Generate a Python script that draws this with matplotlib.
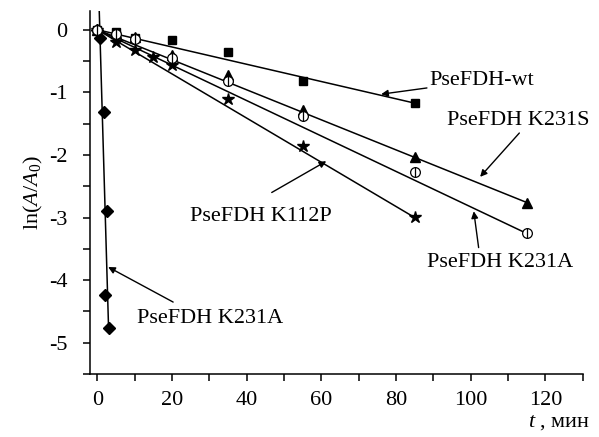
import numpy as np
import matplotlib
matplotlib.use("Agg")
import matplotlib.pyplot as plt
from matplotlib.ticker import MultipleLocator

plt.rcParams['font.family'] = ['Liberation Serif', 'DejaVu Serif']
plt.rcParams['mathtext.fontset'] = 'custom'
plt.rcParams['mathtext.rm'] = 'Liberation Serif'
plt.rcParams['mathtext.it'] = 'Liberation Serif:italic'

# data
t_wt = [0, 5, 10, 20, 35, 55, 85]
y_wt = [0, -0.04, -0.13, -0.17, -0.36, -0.82, -1.17]

t_s = [0, 5, 10, 20, 35, 55, 85, 115]
y_s = [0, -0.05, -0.12, -0.4, -0.72, -1.28, -2.03, -2.76]

t_a = [0, 5, 10, 20, 35, 55, 85, 115]
y_a = [0, -0.07, -0.15, -0.45, -0.82, -1.38, -2.28, -3.25]

t_p = [0, 5, 10, 15, 20, 35, 55, 85]
y_p = [0, -0.2, -0.33, -0.43, -0.56, -1.1, -1.85, -2.99]

t_d = [0, 0.8, 1.7, 2.6, 2.1, 3.0]
y_d = [0, -0.13, -1.31, -2.89, -4.24, -4.76]

# fitted lines: slope, intercept, x range
fit_wt = (-0.0138, 0.0, 0, 85)
fit_s = (-0.024, 0.0, 0, 115)
fit_a = (-0.0283, 0.0, 0, 115)
fit_p = (-0.0353, 0.0, 0, 85)
fit_d = (-2.03, 1.35, 0, 3.0)

fig = plt.figure(figsize=(5.99, 4.37), dpi=100)
ax = fig.add_axes([0.150, 0.144, 0.823, 0.831])

def fit_line(f):
    k, b, x0, x1 = f
    xs = np.array([x0, x1])
    ax.plot(xs, k * xs + b, color='black', lw=1.1, zorder=2)

for f in (fit_wt, fit_s, fit_a, fit_p, fit_d):
    fit_line(f)

ax.plot(t_wt, y_wt, 's', color='black', ms=6, ls='none', zorder=3)
ax.plot(t_s, y_s, '^', color='black', ms=7, ls='none', zorder=3)
ax.plot(t_a, y_a, 'o', mfc='white', mec='black', mew=0.9, ms=7, ls='none', zorder=4)
ax.plot(t_a, y_a, '|', color='black', mew=0.9, ms=7, ls='none', zorder=5)
ax.plot(t_p, y_p, '*', color='black', ms=9, ls='none', zorder=3)
ax.plot(t_d, y_d, 'D', color='black', ms=6, ls='none', zorder=3)

ax.set_xlim(-2, 130)
ax.set_ylim(-5.5, 0.3)
ax.xaxis.set_minor_locator(MultipleLocator(10))
ax.yaxis.set_minor_locator(MultipleLocator(0.5))
ax.spines['top'].set_visible(False)
ax.spines['right'].set_visible(False)
for s in ('left', 'bottom'):
    ax.spines[s].set_linewidth(1.1)
ax.tick_params(which='both', direction='out', length=5, width=1.1, labelsize=16)
ax.tick_params(axis='y', pad=11)
ax.tick_params(axis='x', pad=7)
ax.set_xticks([0, 20, 40, 60, 80, 100, 120])
ax.set_xticklabels(['0', '20', '40', '60', '80', '100', '120'])
ax.set_yticks([0, -1, -2, -3, -4, -5])
ax.set_yticklabels(['0', '-1', '-2', '-3', '-4', '-5'])

ax.set_ylabel(r'$\mathrm{ln}(A/A_0)$', fontsize=16)
ax.yaxis.set_label_coords(-0.09, 0.5)
fig.text(590 / 599, 1 - 423 / 437, r'$t$ , мин', fontsize=16, ha='right', va='center')

arrow = dict(arrowstyle='-|>', color='black', lw=1.0, mutation_scale=10, shrinkA=0, shrinkB=0)
ax.annotate('PseFDH-wt', xy=(76, -1.03), xytext=(89, -0.81),
            fontsize=16, ha='left', va='center', arrowprops=arrow)
ax.annotate('', xy=(102.5, -2.35), xytext=(113, -1.65), arrowprops=arrow)
ax.text(93.5, -1.45, 'PseFDH K231S', fontsize=16, ha='left', va='center')
ax.annotate('', xy=(61.3, -2.1), xytext=(46.7, -2.6), arrowprops=arrow)
ax.text(24.8, -2.99, 'PseFDH K112P', fontsize=16, ha='left', va='center')
ax.annotate('', xy=(100.8, -2.9), xytext=(102.1, -3.48), arrowprops=arrow)
ax.text(88.3, -3.72, 'PseFDH K231A', fontsize=16, ha='left', va='center')
ax.annotate('', xy=(2.9, -3.79), xytext=(20.3, -4.35), arrowprops=arrow)
ax.text(10.7, -4.61, 'PseFDH K231A', fontsize=16, ha='left', va='center')

fig.savefig('out.png', dpi=100)
